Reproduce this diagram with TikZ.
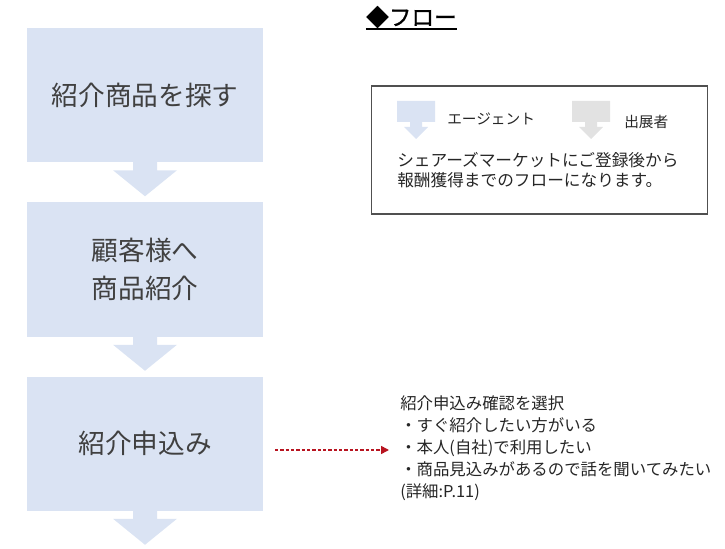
\documentclass[tikz,border=0pt]{standalone}
\usepackage{fontspec}
\setmainfont{Noto Sans CJK JP}
\newfontfamily\titlefont{Noto Sans CJK JP}[FakeBold=0.8]
\usetikzlibrary{arrows.meta,calc}
\definecolor{boxblue}{HTML}{DAE3F3}
\definecolor{legendgray}{HTML}{E2E2E2}
\definecolor{txtgray}{HTML}{404040}
\definecolor{darkred}{HTML}{B81420}
\definecolor{framegray}{HTML}{505050}
\tikzset{
  flowbox/.style={fill=boxblue, draw=none, minimum width=177pt, minimum height=100.5pt,
    inner sep=0pt, align=center, text=txtgray,
    font=\fontsize{20pt}{28pt}\selectfont},
  flowarrow/.pic={\fill[boxblue] (-12,-1) -- (12,-1) -- (12,8) -- (32,8) -- (0,34) -- (-32,8) -- (-12,8) -- cycle;},
  legendarrow/.pic={\fill[#1] (-19,0) -- (19,0) -- (19,21) -- (6,21) -- (6,26) -- (12,26) -- (0,38) -- (-12,26) -- (-6,26) -- (-6,21) -- (-19,21) -- cycle;},
  smalltext/.style={inner sep=0pt, anchor=west, text=black!85},
  redarrow/.style={draw=darkred, line width=1.2pt, dash pattern=on 2.6pt off 1.4pt,
    -{Triangle[length=6pt,width=6pt,fill=darkred]}},
}
\begin{document}
\begin{tikzpicture}[x=0.75pt,y=-0.75pt]
\useasboundingbox (0,0) rectangle (725,549);
% title
\node[inner sep=0pt, font=\titlefont\fontsize{17pt}{20pt}\selectfont] (title) at (411.5,17) {◆フロー};
\draw[line width=1pt] (title.west |- 0,29) -- (title.east |- 0,29);
% flow boxes
\node[flowbox] (b1) at (145,95) {紹介商品を探す};
\node[flowbox] (b2) at (145,269.5) {顧客様へ\\商品紹介};
\node[flowbox] (b3) at (145,443.5) {紹介申込み};
\pic at (b1.south) {flowarrow};
\pic at (b2.south) {flowarrow};
\pic at (b3.south) {flowarrow};
% legend box
\node[draw=framegray, line width=1.2pt, minimum width=252pt, minimum height=96pt, inner sep=0pt] (legend) at (539.5,150) {};
\pic at (416,101) {legendarrow=boxblue};
\pic at (591,101) {legendarrow=legendgray};
\node[smalltext, font=\fontsize{11pt}{13pt}\selectfont] (lagent) at (447,119) {エージェント};
\node[smalltext, font=\fontsize{11pt}{13pt}\selectfont] (lexh) at (624,122) {出展者};
\node[smalltext, align=left, font=\fontsize{12.5pt}{15pt}\selectfont] (ltext) at (397,170) {シェアーズマーケットにご登録後から\\報酬獲得までのフローになります。};
% notes
\node[smalltext, align=left, font=\fontsize{12.3pt}{16.5pt}\selectfont] (notes) at (400,448) {紹介申込み確認を選択\\・すぐ紹介したい方がいる\\・本人(自社)で利用したい\\・商品見込みがあるので話を聞いてみたい\\(詳細:P.11)};
\coordinate (ds) at (275,450);
\coordinate (de) at (389,450);
\draw[redarrow] (ds) -- (de);
\end{tikzpicture}
\end{document}
